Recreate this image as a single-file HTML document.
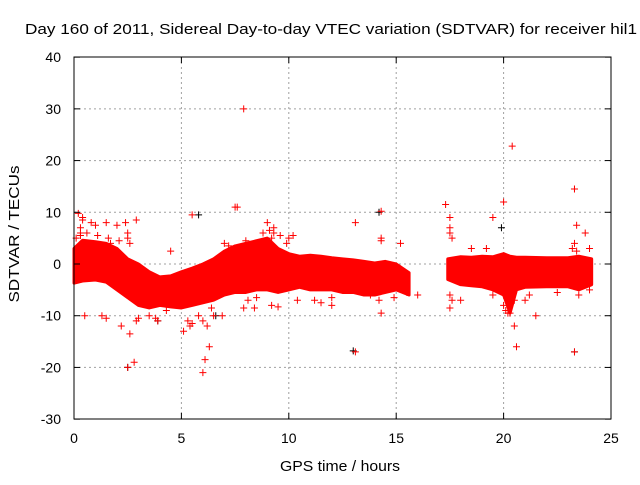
<!DOCTYPE html>
<html><head><meta charset="utf-8"><style>
body{margin:0;background:#fff}
svg text{font-family:"Liberation Sans",sans-serif;font-size:14px;fill:#000}
</style></head><body>
<svg id="c" width="640" height="480">
<text x="331" y="34" text-anchor="middle" textLength="612" lengthAdjust="spacingAndGlyphs" style="font-size:15px">Day 160 of 2011, Sidereal Day-to-day VTEC variation (SDTVAR) for receiver hil1</text>
<text x="340" y="471" text-anchor="middle" textLength="120" lengthAdjust="spacingAndGlyphs" style="font-size:15px">GPS time / hours</text>
<text transform="translate(19,234) rotate(-90)" text-anchor="middle" textLength="137" lengthAdjust="spacingAndGlyphs" style="font-size:15px">SDTVAR / TECUs</text>
<g id="grid"></g><g id="band"></g><g id="pts"></g>
<rect x="74" y="57" width="537" height="362" fill="none" stroke="#000" stroke-width="1"/>
<g id="ticks"></g>
</svg>
<script>
const xTicks=[0,5,10,15,20,25];
const yTicks=[40,30,20,10,0,-10,-20,-30];
const bandT=[0,0.4,1,1.5,2,2.5,3,3.5,4,4.5,5,5.5,6,6.5,7,7.5,8,8.5,9,9.5,10,10.5,11,11.5,12,12.5,13,13.5,14,14.5,15,15.6,null,17.4,18,18.5,19,19.5,20,20.3,20.6,21,22,23,23.5,24.1];
const bandHi=[3,4.6,4.3,4,3,1,0,-1.5,-2.5,-2.3,-1.5,-0.8,0,1,2.5,3.5,4,4.5,5,3,2,1.5,1.7,1.5,1.2,1,0.8,0.5,0.2,0.5,0,-1.7,null,1,1.4,1.3,1.5,1.4,2,1.5,1.3,1.3,1.2,1.2,1.5,1];
const bandLo=[-3.7,-3.3,-3.1,-3.5,-5,-6.5,-8,-8.5,-8,-8.3,-8.5,-8,-7.5,-7,-6,-5.5,-5.5,-5,-5,-5.5,-5,-4.5,-5,-5,-5,-5.5,-5.5,-6,-6,-5.5,-5,-6,null,-3,-4,-4.2,-4.4,-5,-6,-9.5,-5,-4.5,-4.4,-4.4,-5,-4];
const outT=[0.2,0.4,0.8,1,1.5,2,2.4,2.9,2.6,2.8,2.5,4.5,5.1,5.8,6,6.1,6.3,7.5,7.9,8,9,9.2,13.1,13.1,14.3,14.3,15.2,17.3,17.5,17.5,19.5,20,20.4,20.5,20.6,21,23.3,23.3,23.4,23.8,0.5,1.3,1.5,3.9,5.5,6.4,6.9,9.5,18,20.3,21.5,7.6,2.2,12,16,
0.3,0.3,0.3,0.4,1.6,1.7,2.5,2.5,2.6,2.9,3,3.5,5.3,5.4,5.5,6,6.2,6.5,7.9,8.1,8.5,9.2,9.3,9.3,9.9,10,10.2,11.2,11.5,13.8,14.2,14.3,14.3,17.5,17.5,17.6,17.5,17.6,18.5,19.2,19.5,20,20.1,20.2,20.5,23.2,23.3,23.4,23.5,24,24,3.8,4.3,8.4,10.4,12,0.1,0.6,1.1,2.1,7,7.2,8.8,9.1,9.6,15.4,15.5,14.9,21.2,22.5];
const outV=[9.8,9,8,7.5,8,7.5,8,8.5,-13.5,-19,-20,2.5,-13,-10,-21,-18.5,-16,11,30,4.5,8,-8,-17,8,10.2,-9.5,4,11.5,9,-8.5,9,12,22.8,-12,-16,-7,14.5,-17,7.5,6,-10,-10,-10.5,-11,9.5,-8.5,-10,-8.3,-7,-9.5,-10,11,-12,-8,-6,
6,7,5.5,8.5,5,4,6,5,4,-11,-10.5,-10,-11,-12,-11.5,-11,-12,-10,-8.5,-7,-6.5,5,6,7,4,5,5.5,-7,-7.5,-6,-7,5,4.5,7,6,5,-6,-7,3,3,-6,-8,-9,-9.5,-7,3,4,2.5,-6,-5,3,-10.5,-9,-8.5,-7,-6.5,5,6,5.5,4.5,4,3.5,6,6.5,5.5,-5,-5.5,-6.5,-6,-5.5];
const blkT=[5.8,14.2,23.3,23.3,2.5,3.9,13,19.9,6.6];
const blkV=[9.5,10,14.5,-17,-20,-11,-16.8,7,-10];
const X=t=>74+t*(537/25), Y=v=>264-v*(362/70);
const ns="http://www.w3.org/2000/svg";
function mk(tag,at,parent){const e=document.createElementNS(ns,tag);for(const k in at)e.setAttribute(k,at[k]);document.getElementById(parent).appendChild(e);return e;}
xTicks.forEach(t=>{
 if(t>0&&t<25){const g=mk('line',{x1:X(t),x2:X(t),y1:57,y2:419,stroke:'#a0a0a0','stroke-dasharray':'2,3'},'grid');
 
 }
 mk('line',{x1:X(t),x2:X(t),y1:419,y2:413,stroke:'#000'},'ticks');mk('line',{x1:X(t),x2:X(t),y1:57,y2:63,stroke:'#000'},'ticks');
 const l=mk('text',{x:X(t),y:443,'text-anchor':'middle'},'ticks');l.textContent=t;
 
 
});
yTicks.forEach(v=>{
 if(v<40&&v>-30){const g=mk('line',{x1:74,x2:611,y1:Y(v),y2:Y(v),stroke:'#a0a0a0','stroke-dasharray':'2,3'},'grid');
 
 }
 mk('line',{x1:74,x2:80,y1:Y(v),y2:Y(v),stroke:'#000'},'ticks');mk('line',{x1:611,x2:605,y1:Y(v),y2:Y(v),stroke:'#000'},'ticks');
 const l=mk('text',{x:61,y:Y(v)+5,'text-anchor':'end'},'ticks');l.textContent=v;
 
 
});
let seg=[];const segs=[];
bandT.forEach((t,i)=>{if(t===null){segs.push(seg);seg=[];}else seg.push(i);});segs.push(seg);
segs.forEach(s=>{
 const pts=s.map(i=>X(bandT[i])+','+Y(bandHi[i])).concat(s.slice().reverse().map(i=>X(bandT[i])+','+Y(bandLo[i])));
 const p=mk('polygon',{points:pts.join(' '),fill:'#ff0000',stroke:'#ff0000','stroke-width':3,'stroke-linejoin':'round'},'band');
 
 
});
function plus(t,v,col,name){
 const x=X(t),y=Y(v);
 const p=mk('path',{d:`M${x-3.5},${y}H${x+3.5}M${x},${y-3.5}V${y+3.5}`,stroke:col,'stroke-width':1,fill:'none'},'pts');
 
 
}
blkT.forEach((t,i)=>plus(t,blkV[i],'#000','black-point'));
outT.forEach((t,i)=>plus(t,outV[i],'#ff0000','sdtvar-point'));
</script>
</body></html>
